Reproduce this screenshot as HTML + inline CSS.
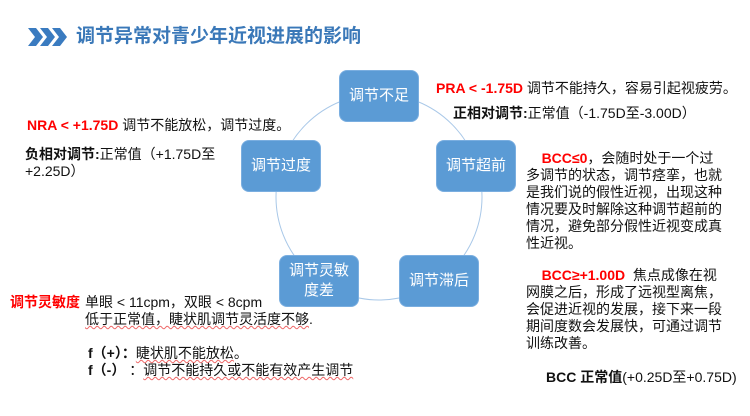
<!DOCTYPE html>
<html><head><meta charset="utf-8"><style>
body{margin:0;width:750px;height:416px;background:#fff;position:relative;overflow:hidden;font-family:"Liberation Sans","Noto Sans CJK SC",sans-serif;color:#111}
.t{position:absolute;font-size:14px;white-space:nowrap;line-height:17px}
.r{color:#f00;font-weight:bold}
.b{font-weight:bold}
.box{position:absolute;width:78px;height:50px;background:#5b9bd5;border-radius:7px;color:#fff;font-size:15px;display:flex;align-items:center;justify-content:center;text-align:center;line-height:20px;box-shadow:0 0 0 1px #7aaee0}
u{text-decoration:underline wavy #e66;text-decoration-thickness:1px}
</style></head><body>
<svg width="750" height="416" style="position:absolute;left:0;top:0">
<polygon points="28,28 36,28 43,37 36,46 28,46 35,37" fill="#3a7bc0"/>
<polygon points="40,28 48,28 55,37 48,46 40,46 47,37" fill="#3a7bc0"/>
<polygon points="52,28 60,28 67,37 60,46 52,46 59,37" fill="#3a7bc0"/>
<circle cx="379" cy="197" r="103" fill="none" stroke="#a9c8e8" stroke-width="1"/>
</svg>
<div class="t" style="left:76px;top:25px;font-size:19px;line-height:24px;font-weight:bold;color:#3a78b8">调节异常对青少年近视进展的影响</div>
<div class="box" style="left:340px;top:71px">调节不足</div>
<div class="box" style="left:242px;top:141px">调节过度</div>
<div class="box" style="left:437px;top:141px">调节超前</div>
<div class="box" style="left:280px;top:256px">调节灵敏<br>度差</div>
<div class="box" style="left:400px;top:256px">调节滞后</div>
<div class="t" style="left:27px;top:117px"><span class="r">NRA &lt; +1.75D</span> 调节不能放松，调节过度。</div>
<div class="t" style="left:25px;top:146px"><span class="b">负相对调节:</span>正常值（+1.75D至<br>+2.25D）</div>
<div class="t" style="left:436px;top:80px"><span class="r">PRA &lt; -1.75D</span> 调节不能持久，容易引起视疲劳。</div>
<div class="t" style="left:453px;top:105px"><span class="b">正相对调节:</span>正常值（-1.75D至-3.00D）</div>
<div class="t" style="left:526px;top:150px">&nbsp;&nbsp;&nbsp;&nbsp;<span class="r">BCC≤0</span>，会随时处于一个过<br>多调节的状态，调节痉挛，也就<br>是我们说的假性近视，出现这种<br>情况要及时解除这种调节超前的<br>情况，避免部分假性近视变成真<br>性近视。</div>
<div class="t" style="left:526px;top:267px">&nbsp;&nbsp;&nbsp;&nbsp;<span class="r">BCC≥+1.00D</span>&nbsp; 焦点成像在视<br>网膜之后，形成了远视型离焦，<br>会促进近视的发展，接下来一段<br>期间度数会发展快，可通过调节<br>训练改善。</div>
<div class="t" style="left:546px;top:369px"><span class="b">BCC 正常值</span>(+0.25D至+0.75D)</div>
<div class="t" style="left:10px;top:294px"><span class="r">调节灵敏度</span></div>
<div class="t" style="left:85px;top:294px">单眼 &lt; 11cpm，双眼 &lt; 8cpm<br><u>低于正常值，睫状肌调节灵活度不够</u>.</div>
<div class="t" style="left:88px;top:345px"><span class="b">f（+）：</span><u>睫状肌不能放松</u>。<br><span class="b">f（-）</span> ：<u>调节不能持久或不能有效产生调节</u></div>
</body></html>
